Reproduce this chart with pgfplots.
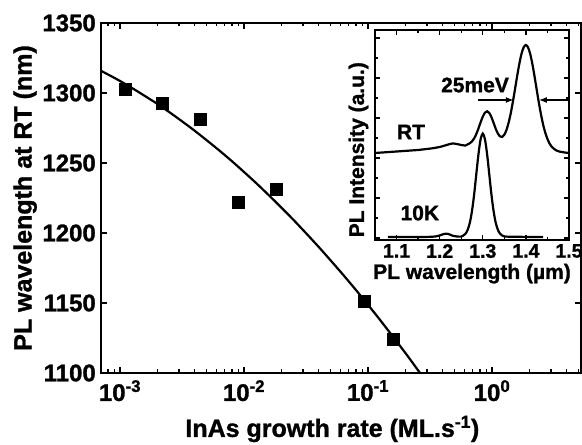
\documentclass[border=0pt]{standalone}
\usepackage{fontspec}
\setmainfont{Liberation Sans}[BoldFeatures={FakeBold=1.2}]
\usepackage{pgfplots}
\pgfplotsset{compat=1.18}
\usetikzlibrary{arrows.meta}

\newcommand{\fa}{\fontsize{24bp}{28bp}\selectfont\bfseries}
\newcommand{\fb}{\fontsize{25bp}{29bp}\selectfont\bfseries}
\newcommand{\fc}{\fontsize{19.5bp}{23bp}\selectfont\bfseries}
\newcommand{\fd}{\fontsize{21bp}{24bp}\selectfont\bfseries}

\begin{document}
\begin{tikzpicture}
\path[use as bounding box] (0,0) rectangle (582bp,445bp);

% main plot: PL wavelength vs growth rate
\begin{axis}[
  at={(101bp,72bp)}, anchor=south west,
  scale only axis, width=480bp, height=350bp,
  xmode=log, xmin=7.03e-4, xmax=5.22,
  ymin=1100, ymax=1350,
  ytick={1100,1150,1200,1250,1300,1350},
  xtick={1e-3,1e-2,1e-1,1},
  xticklabels={10\textsuperscript{-3},10\textsuperscript{-2},10\textsuperscript{-1},10\textsuperscript{0}},
  minor xtick={8e-4,9e-4,2e-3,3e-3,4e-3,5e-3,6e-3,7e-3,8e-3,9e-3,
    2e-2,3e-2,4e-2,5e-2,6e-2,7e-2,8e-2,9e-2,
    0.2,0.3,0.4,0.5,0.6,0.7,0.8,0.9,2,3,4,5},
  tick align=inside,
  major tick length=6bp, minor tick length=3.5bp,
  every tick/.style={black, line width=1.4bp},
  axis line style={line width=2.2bp},
  tick label style={font=\fa},
  yticklabel style={inner sep=1bp, xshift=-4bp},
  xticklabel style={inner sep=1bp, yshift=-6bp},
  /pgf/number format/assume math mode=true,
  /pgf/number format/1000 sep={},
  xlabel={InAs growth rate (ML.s\textsuperscript{-1})},
  ylabel={PL wavelength at RT (nm)},
  label style={font=\fb},
  xlabel style={at={(axis description cs:0.482,-0.16)}, anchor=center},
  ylabel style={at={(axis description cs:-0.158,0.5)}, anchor=center},
]
\addplot[black, line width=2.2bp, smooth] coordinates {
  (6.31e-4,1318.0) (7.94e-4,1313.4) (1e-3,1308.6) (1.259e-3,1303.4)
  (1.585e-3,1297.9) (1.995e-3,1292.3) (2.512e-3,1286.2) (3.162e-3,1279.8)
  (3.981e-3,1273.2) (5.012e-3,1266.2) (6.31e-3,1259.0) (7.943e-3,1251.5)
  (1e-2,1243.6) (1.259e-2,1235.5) (1.585e-2,1227.0) (1.995e-2,1218.3)
  (2.512e-2,1209.3) (3.162e-2,1199.9) (3.981e-2,1190.3) (5.012e-2,1180.3)
  (6.31e-2,1170.1) (7.943e-2,1159.6) (0.1,1148.7) (0.1259,1137.6)
  (0.1585,1126.1) (0.1995,1114.5) (0.2512,1102.4) (0.3162,1090.1)
};
\addplot[only marks, mark=square*, mark size=6bp, black] coordinates {
  (1.10e-3,1303) (2.18e-3,1293) (4.42e-3,1281) (8.95e-3,1222)
  (1.81e-2,1231) (9.33e-2,1151) (0.160,1124)
};
\end{axis}

% inset: PL spectra
\begin{axis}[
  at={(375bp,205bp)}, anchor=south west,
  scale only axis, width=194bp, height=210bp,
  axis background/.style={fill=white},
  xmin=1.05, xmax=1.5, ymin=-2, ymax=208,
  xtick={1.1,1.2,1.3,1.4,1.5},
  minor xtick={1.05,1.15,1.25,1.35,1.45},
  ytick={0,40,80,120,160,200}, minor ytick={20,60,100,140,180},
  yticklabels={},
  tick align=inside,
  major tick length=5bp, minor tick length=3bp,
  every tick/.style={black, line width=1.3bp},
  axis line style={line width=2bp},
  xticklabel style={font=\fc, inner sep=0bp, yshift=-4bp},
  /pgf/number format/assume math mode=true,
  /pgf/number format/fixed,
  xlabel={PL wavelength (µm)},
  ylabel={PL Intensity (a.u.)},
  label style={font=\fd},
  xlabel style={at={(axis description cs:0.5,-0.16)}, anchor=center, inner sep=0bp},
  ylabel style={at={(axis description cs:-0.085,0.43)}, anchor=center},
]
% RT spectrum
\addplot[black, line width=2.2bp, smooth] coordinates {
  (1.05,85) (1.06,85.3) (1.07,85.6) (1.08,85.9) (1.09,86.2) (1.10,86.5)
  (1.11,86.8) (1.12,87.1) (1.13,87.4) (1.14,87.7) (1.15,88) (1.16,88.5)
  (1.17,89) (1.18,89.5) (1.19,90.2) (1.20,91) (1.21,92.2) (1.22,93.5)
  (1.23,94.5) (1.24,94) (1.25,93) (1.26,92.5) (1.265,93.6) (1.27,94.8)
  (1.275,96.6) (1.28,99.6) (1.285,104) (1.29,109.6) (1.295,115.8)
  (1.30,121.3) (1.305,125.3) (1.31,126.7) (1.315,125.1) (1.32,120.9)
  (1.325,115.2) (1.33,109.3) (1.335,104.5) (1.34,101.6) (1.345,101.1)
  (1.35,103.3) (1.355,108.1) (1.36,115.5) (1.365,125) (1.37,136.7)
  (1.375,149.5) (1.38,162.6) (1.385,174.7) (1.39,184.5) (1.395,190.8)
  (1.40,193) (1.405,190.6) (1.41,184.1) (1.415,174.1) (1.42,161.8)
  (1.425,148.5) (1.43,135.5) (1.435,123.6) (1.44,113.4) (1.445,105.2)
  (1.45,99) (1.455,94.4) (1.46,91.2) (1.47,87.7) (1.48,86.2) (1.49,85.5)
  (1.50,85)
};
% 10K spectrum
\addplot[black, line width=2.2bp, smooth] coordinates {
  (1.08,1) (1.10,1) (1.12,1) (1.14,1) (1.16,1) (1.18,1.2) (1.19,1.5)
  (1.20,2.5) (1.205,3.3) (1.21,4) (1.215,4.3) (1.22,4) (1.225,3.2)
  (1.23,2.3) (1.24,1.5) (1.25,1.4) (1.255,2.5) (1.26,4.3) (1.265,8.2)
  (1.27,15.3) (1.275,27.1) (1.28,43.7) (1.285,63.9) (1.29,83.9)
  (1.295,98.8) (1.30,104.4) (1.305,98.8) (1.31,83.9) (1.315,63.9)
  (1.32,43.7) (1.325,27.1) (1.33,15.3) (1.335,8.2) (1.34,4.3)
  (1.345,2.5) (1.35,1.6) (1.36,1.3) (1.38,1.2) (1.40,1.1) (1.42,1) (1.44,1)
};
\draw[line width=1.4bp, -{Latex[length=8bp,width=6bp]}] (axis cs:1.289,138) -- (axis cs:1.372,138);
\draw[line width=1.4bp, -{Latex[length=8bp,width=6bp]}] (axis cs:1.5,138) -- (axis cs:1.43,138);
\node[font=\fd] at (axis cs:1.282,153) {25meV};
\node[font=\fd] at (axis cs:1.1335,106) {RT};
\node[font=\fd] at (axis cs:1.154,25) {10K};
\end{axis}
\end{tikzpicture}
\end{document}
